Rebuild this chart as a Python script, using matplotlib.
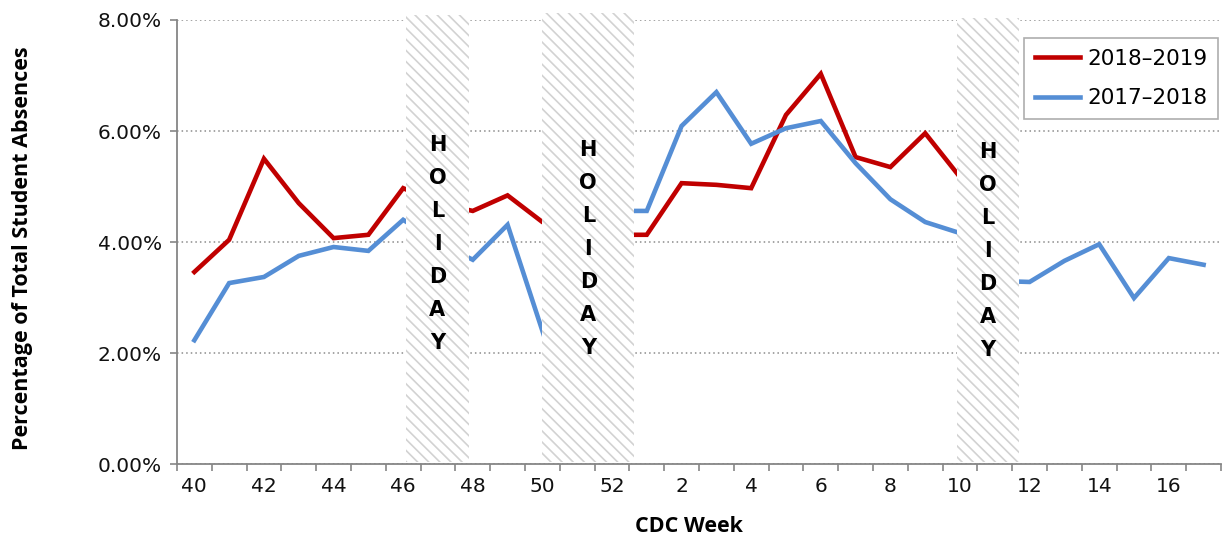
import matplotlib
matplotlib.use('Agg')
import matplotlib.pyplot as plt
from matplotlib.patches import Rectangle
import numpy as np

# CDC weeks shown on the category axis
weeks = list(range(40, 53)) + list(range(1, 18))
tick_labels = ['40', '42', '44', '46', '48', '50', '52',
               '2', '4', '6', '8', '10', '12', '14', '16']

# percentage of total student absences (values under the holiday bands are estimates)
season_1819 = [3.46, 4.04, 5.50, 4.70, 4.07, 4.13, 4.97, 4.70, 4.56, 4.84, 4.36, 4.20, 4.13,
               4.13, 5.06, 5.03, 4.97, 6.29, 7.03, 5.53, 5.35, 5.96, 5.17] + [np.nan] * 7
season_1718 = [2.23, 3.26, 3.37, 3.75, 3.91, 3.84, 4.40, 4.00, 3.68, 4.31, 2.40, 3.90, 4.56,
               4.56, 6.09, 6.70, 5.77, 6.05, 6.18, 5.42, 4.77, 4.36, 4.16, 3.30, 3.28,
               3.66, 3.96, 2.99, 3.71, 3.59]

# holiday bands, in category-index units
holidays = [(6.08, 7.89, 8.09, 5.75), (10.0, 12.64, 8.13, 5.66), (21.9, 23.7, 8.04, 5.62)]

RED = '#C00000'
BLUE = '#558ED5'
GRAY = '#868686'
TICKFS = 14.5

plt.rcParams['hatch.linewidth'] = 1.2

fig = plt.figure(figsize=(12.28, 5.42), dpi=100)
ax = fig.add_axes([0.1441, 0.1439, 0.8502, 0.8192])

x = np.arange(len(weeks))
ax.plot(x, season_1819, color=RED, lw=3.3, label='2018\u20132019', solid_joinstyle='miter', zorder=3)
ax.plot(x, season_1718, color=BLUE, lw=3.3, label='2017\u20132018', solid_joinstyle='miter', zorder=3)

ax.set_xlim(-0.5, len(weeks) - 0.5)
ax.set_ylim(0, 8)

# grid
ax.set_yticks([0, 2, 4, 6, 8])
ax.set_yticklabels(['%.2f%%' % v for v in [0, 2, 4, 6, 8]], fontsize=TICKFS, color='#111111')
ax.yaxis.grid(True, linestyle=(0, (1, 2)), color='#8c8c8c', lw=1.1)
ax.set_axisbelow(True)

# x ticks at category boundaries, labels at every other week
ax.set_xticks(np.arange(-0.5, len(weeks), 1.0))
ax.set_xticklabels([])
ax.set_xticks(np.arange(0, len(weeks), 2), minor=True)
ax.set_xticklabels(tick_labels, minor=True, fontsize=TICKFS, color='#111111')
ax.tick_params(axis='x', which='major', length=5, color=GRAY, width=1.2)
ax.tick_params(axis='x', which='minor', length=0, pad=9)
ax.tick_params(axis='y', length=5, color=GRAY, width=1.2, pad=6)

for s in ['top', 'right']:
    ax.spines[s].set_visible(False)
for s in ['left', 'bottom']:
    ax.spines[s].set_color(GRAY)
    ax.spines[s].set_linewidth(1.3)

# holiday bands
for x0, x1, top, ytxt in holidays:
    r = Rectangle((x0, 0.04), x1 - x0, top - 0.04, facecolor='white', edgecolor='#d2d2d2',
                  hatch='\\\\\\', lw=0, zorder=5, clip_on=False)
    ax.add_patch(r)
    xc = (x0 + x1) / 2
    for k, ch in enumerate('HOLIDAY'):
        ax.text(xc, ytxt - k * 0.595, ch, ha='center', va='center', fontsize=15,
                fontweight='bold', family='DejaVu Sans', zorder=6)

ax.set_ylabel('Percentage of Total Student Absences', fontsize=15.5, fontweight='bold',
              family='Open Sans')
ax.set_xlabel('CDC Week', fontsize=15.5, fontweight='bold', family='Open Sans')
ax.yaxis.set_label_coords(-0.1375, 0.485)
ax.xaxis.set_label_coords(0.49, -0.118)

leg = fig.legend(loc='upper left', bbox_to_anchor=(1024 / 1228, 1 - 38 / 542), fontsize=15.5,
                 frameon=True, fancybox=False, handlelength=2.1, borderpad=0.5,
                 labelspacing=0.9, handletextpad=0.35, borderaxespad=0)
leg.get_frame().set_edgecolor('#9a9a9a')
leg.get_frame().set_linewidth(1.2)
leg.set_zorder(10)

fig.savefig('out.png', dpi=100)
